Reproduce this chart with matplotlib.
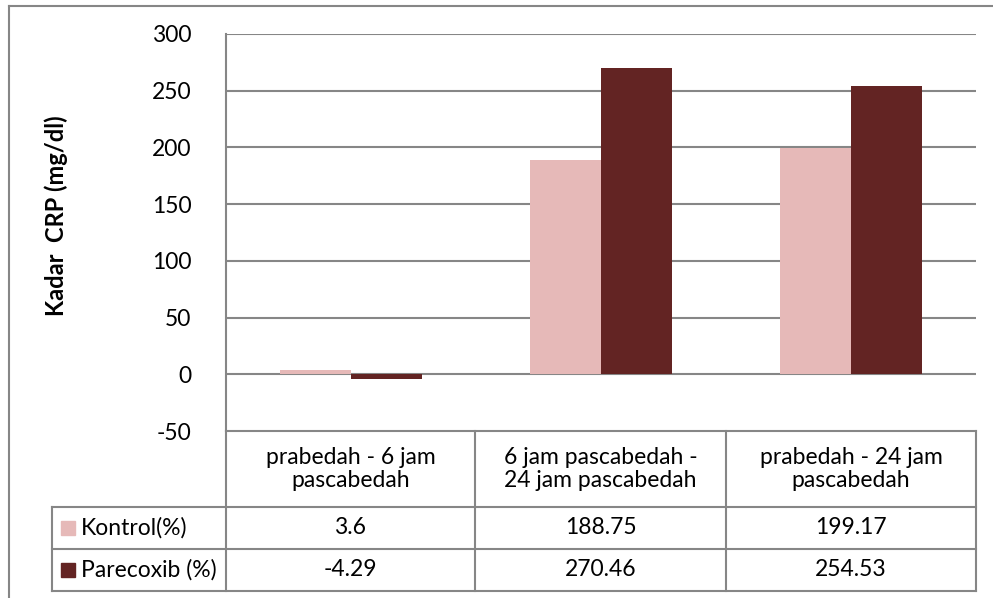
import matplotlib
matplotlib.use("Agg")
import matplotlib.pyplot as plt
import numpy as np
from matplotlib.lines import Line2D
from matplotlib.patches import Rectangle

# data
categories = ["prabedah - 6 jam\npascabedah",
              "6 jam pascabedah -\n24 jam pascabedah",
              "prabedah - 24 jam\npascabedah"]
series_names = ["Kontrol(%)", "Parecoxib (%)"]
kontrol = [3.6, 188.75, 199.17]
parecoxib = [-4.29, 270.46, 254.53]
kontrol_labels = ["3.6", "188.75", "199.17"]
parecoxib_labels = ["-4.29", "270.46", "254.53"]
yticks = [-50, 0, 50, 100, 150, 200, 250, 300]

colors = ["#E6B9B8", "#632423"]
grid_c = "#868686"
fs = 16.5

plt.rcParams['font.family'] = ['Lato', 'DejaVu Sans']

W, H = 993, 598
fig = plt.figure(figsize=(W / 100, H / 100), dpi=100)

def fx(px):
    return px / W

def fy(py):
    return 1 - py / H

# plot area in pixels
L, R, T, B = 226, 976, 34, 431
ax = fig.add_axes([fx(L), fy(B), fx(R) - fx(L), fy(T) - fy(B)])

x = np.arange(len(categories))
w = 0.284
ax.bar(x - w / 2, kontrol, w, color=colors[0], zorder=3)
ax.bar(x + w / 2, parecoxib, w, color=colors[1], zorder=3)

ax.set_xlim(-0.5, 2.5)
ax.set_ylim(-50, 300)
ax.set_yticks(yticks)
ax.set_yticklabels([str(t) for t in yticks], fontsize=fs)
ax.tick_params(axis='y', length=0, pad=25)
ax.set_xticks([])
for t in yticks[1:]:
    ax.axhline(t, color=grid_c, lw=1.5, zorder=1)
for s in ["top", "right", "bottom"]:
    ax.spines[s].set_visible(False)
ax.spines["left"].set_color(grid_c)
ax.spines["left"].set_linewidth(1.5)

fig.text(fx(56), fy(216), "Kadar  CRP (mg/dl)", rotation=90, fontsize=17,
         fontweight='bold', ha='center', va='center')

# data table
cols = [226, 475, 726, 976]
rows = [431, 507, 549, 591]
legend_left = 52

def hline(x0, x1, y):
    fig.add_artist(Line2D([fx(x0), fx(x1)], [fy(y), fy(y)], color=grid_c, lw=1.5))

def vline(x0, y0, y1):
    fig.add_artist(Line2D([fx(x0), fx(x0)], [fy(y0), fy(y1)], color=grid_c, lw=1.5))

hline(cols[0], cols[-1], rows[0])
for r in rows[1:]:
    hline(legend_left, cols[-1], r)
for c in cols:
    vline(c, rows[0], rows[-1])
vline(legend_left, rows[1], rows[-1])

for i, cat in enumerate(categories):
    cx = (cols[i] + cols[i + 1]) / 2
    fig.text(fx(cx), fy((rows[0] + rows[1]) / 2), cat, ha='center', va='center',
             fontsize=fs, linespacing=1.15)
    fig.text(fx(cx), fy((rows[1] + rows[2]) / 2), kontrol_labels[i],
             ha='center', va='center', fontsize=fs)
    fig.text(fx(cx), fy((rows[2] + rows[3]) / 2), parecoxib_labels[i],
             ha='center', va='center', fontsize=fs)

for j, name in enumerate(series_names):
    cy = (rows[j + 1] + rows[j + 2]) / 2
    fig.add_artist(Rectangle((fx(61), fy(cy + 7)), fx(14), fy(0) - fy(14),
                             color=colors[j], transform=fig.transFigure))
    fig.text(fx(81), fy(cy), name, ha='left', va='center', fontsize=fs)

# outer chart border
fig.add_artist(Line2D([fx(9), fx(W)], [fy(6), fy(6)], color=grid_c, lw=1.5))
fig.add_artist(Line2D([fx(9), fx(9)], [fy(6), fy(H)], color=grid_c, lw=1.5))

fig.savefig("out.png", dpi=100)
